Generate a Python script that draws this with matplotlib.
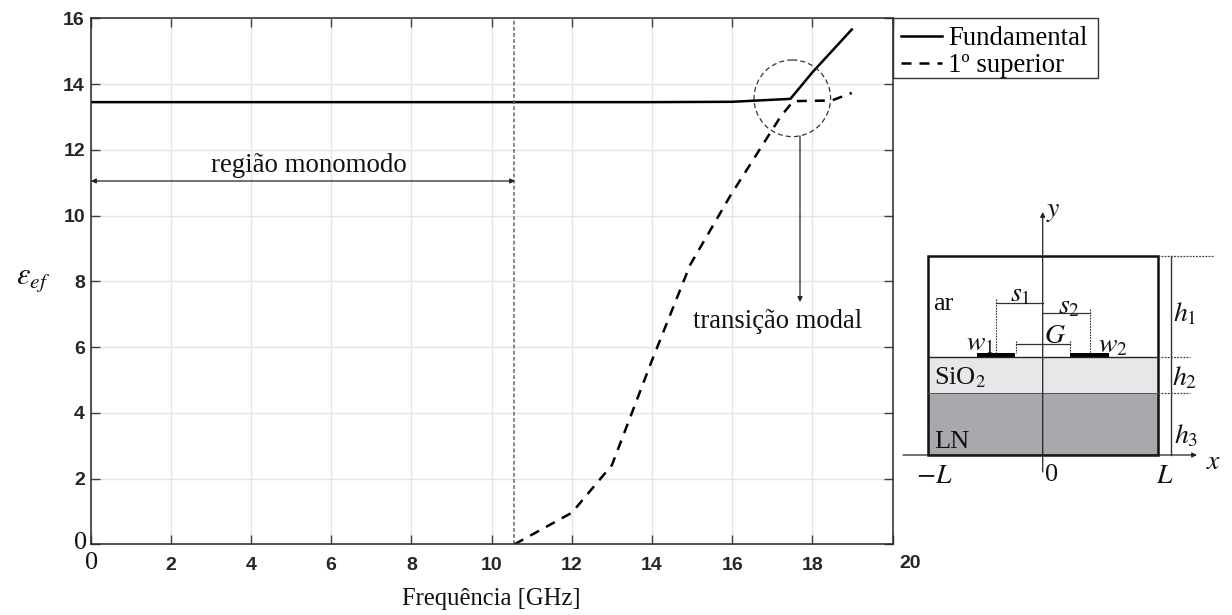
import matplotlib
matplotlib.use("Agg")
import matplotlib.pyplot as plt
from matplotlib.patches import Rectangle, Circle

# curve values
freq_fund = [0, 2, 4, 6, 8, 10, 12, 14, 16, 17.45, 18, 18.98]
eps_fund = [13.45, 13.45, 13.45, 13.45, 13.45, 13.45, 13.45, 13.45, 13.46, 13.55, 14.36, 15.66]
freq_sup = [10.57, 12, 13, 14, 14.95, 15.95, 17.2, 17.52, 18.48, 18.98]
eps_sup = [0, 0.96, 2.41, 5.6, 8.5, 10.6, 13.0, 13.48, 13.5, 13.73]
cutoff = 10.57
xticks = list(range(0, 21, 2))
yticks = list(range(0, 17, 2))

SERIF = "Liberation Serif"
W, H = 1232, 615

fig = plt.figure(figsize=(W / 100, H / 100), dpi=100)

# main axes, placed by pixel
left, right, top, bottom = 90.5, 892.7, 18.3, 544.3
ax = fig.add_axes([left / W, 1 - bottom / H, (right - left) / W, (bottom - top) / H])
ax.set_xlim(0, 20)
ax.set_ylim(0, 16)
ax.plot(freq_fund, eps_fund, color="black", lw=1.8, label="Fundamental")
ax.plot(freq_sup, eps_sup, color="black", lw=1.8, dashes=(4, 3.2), label="1º superior")
ax.axvline(cutoff, color="#666666", lw=1.1, ls=(0, (2.5, 1.5)))

ax.set_xticks(xticks)
ax.set_yticks(yticks)
ax.set_xticklabels([""] + [str(v) for v in xticks[1:-1]] + [""], fontweight="bold", fontsize=14,
                   family="Liberation Sans", color="#262626")
ax.set_yticklabels([""] + [str(v) for v in yticks[1:]], fontweight="bold", fontsize=14,
                   family="Liberation Sans", color="#262626")
ax.tick_params(direction="in", length=6.5, width=1, color="#404040", top=True, right=True)
ax.tick_params(axis="x", pad=9)
ax.tick_params(axis="y", pad=4)
ax.grid(True, color="#e4e4e4", lw=1)
ax.set_axisbelow(True)
for s in ax.spines.values():
    s.set_color("#262626")
    s.set_linewidth(1.1)

leg = ax.legend(loc="upper left", bbox_to_anchor=(1.0, 1.0), borderaxespad=0, fancybox=False,
                framealpha=0, handlelength=1.55, handletextpad=0.22,
                labelspacing=0.08, borderpad=0.3, prop={"family": SERIF, "size": 19.3})
leg.get_frame().set_visible(False)

# overlay in pixel coordinates for the annotations and the cross-section sketch
ov = fig.add_axes([0, 0, 1, 1])
ov.set_xlim(0, W)
ov.set_ylim(H, 0)
ov.axis("off")
ov.patch.set_alpha(0)

# legend frame is tighter than matplotlib makes it
ov.add_patch(Rectangle((892.7, 18.3), 205, 60, fill=False, ec="#333333", lw=1))


def txt(x, y, s, size=19, **kw):
    kw.setdefault("ha", "center")
    kw.setdefault("va", "center")
    ov.text(x, y, s, family=SERIF, fontsize=size, color="#111111", **kw)


def math(x, y, s, size=20):
    ov.text(x, y, s, fontsize=size, color="#111111", ha="center", va="center",
            math_fontfamily="stix")


def arrow(x0, y0, x1, y1, style="-|>", lw=0.9):
    ov.annotate("", xy=(x1, y1), xytext=(x0, y0),
                arrowprops=dict(arrowstyle=style, lw=lw, color="#222222", shrinkA=0, shrinkB=0,
                                mutation_scale=7))


# tick labels that sit apart from the bold ones
txt(81, 543, "0", 19)
txt(92, 563, "0", 19)
ov.text(910, 564, "20", family="Liberation Sans", fontweight="bold", fontsize=14, color="#262626",
        ha="center", va="center")
txt(491, 599, "Frequência [GHz]", 17.7)
math(33, 280, r"$\varepsilon_{ef}$", 22)

txt(309, 166, "região monomodo", 19.4)
arrow(91, 181, 515, 181, "<|-|>")
ov.add_patch(Circle((792.3, 98.3), 38.3, fill=False, ec="#333333", lw=0.9, ls=(0, (4, 2.5))))
arrow(800, 136, 800, 302)
txt(778, 322, "transição modal", 19.2)

# cross-section sketch
bx0, bx1, by0, by1 = 927.5, 1158, 256, 455
iy1, iy2 = 357.3, 392.7
cx = 1042.7
ov.add_patch(Rectangle((bx0, iy1), bx1 - bx0, iy2 - iy1, fc="#e6e7e8", ec="none"))
ov.add_patch(Rectangle((bx0, iy2), bx1 - bx0, by1 - iy2, fc="#a7a9ac", ec="none"))
ov.plot([bx0, bx1], [iy1, iy1], color="#222222", lw=1)
ov.plot([bx0, bx1], [iy2, iy2], color="#555555", lw=0.7)
ov.add_patch(Rectangle((bx0, by0), bx1 - bx0, by1 - by0, fill=False, ec="#111111", lw=1.8))
ov.add_patch(Rectangle((976.7, 352.7), 38.3, 4.2, fc="black", ec="none"))
ov.add_patch(Rectangle((1070.3, 352.7), 38.7, 4.2, fc="black", ec="none"))

arrow(cx, 472, cx, 212)
arrow(903, by1, 1197, by1)
ov.plot([1170.7, 1170.7], [by0, by1], color="#333333", lw=1)
for y, xe in [(by0, 1212.7), (iy1, 1190), (iy2, 1190)]:
    ov.plot([bx1, xe], [y, y], color="#444444", lw=0.9, ls=(0, (1.5, 1)))

# dimension lines
ov.plot([996, cx], [303, 303], color="#333333", lw=0.9)
ov.plot([cx, 1089.5], [312.5, 312.5], color="#333333", lw=0.9)
ov.plot([1015.5, 1070.3], [344, 344], color="#333333", lw=0.9)
for x, y0, y1 in [(996, 299, 353), (1089.5, 309, 353), (1015.5, 341, 353), (1070.3, 341, 353)]:
    ov.plot([x, x], [y0, y1], color="#333333", lw=0.8, ls=(0, (1.5, 1)))

txt(943, 304, "ar")
txt(960, 378, "SiO$_2$", math_fontfamily="stix")
txt(952, 442, "LN")
math(1020.7, 293, r"$s_1$")
math(1069, 305, r"$s_2$")
math(980, 342, r"$w_1$")
math(1112.7, 344, r"$w_2$")
math(1055, 335, r"$G$")
math(1185, 313, r"$h_1$")
math(1185, 377, r"$h_2$")
math(1186, 435, r"$h_3$")
math(1053, 210, r"$y$")
math(1214, 461, r"$x$")
math(934, 475, r"$-L$")
txt(1051.7, 475, "0")
math(1165, 475, r"$L$")

fig.savefig("out.png", dpi=100)
